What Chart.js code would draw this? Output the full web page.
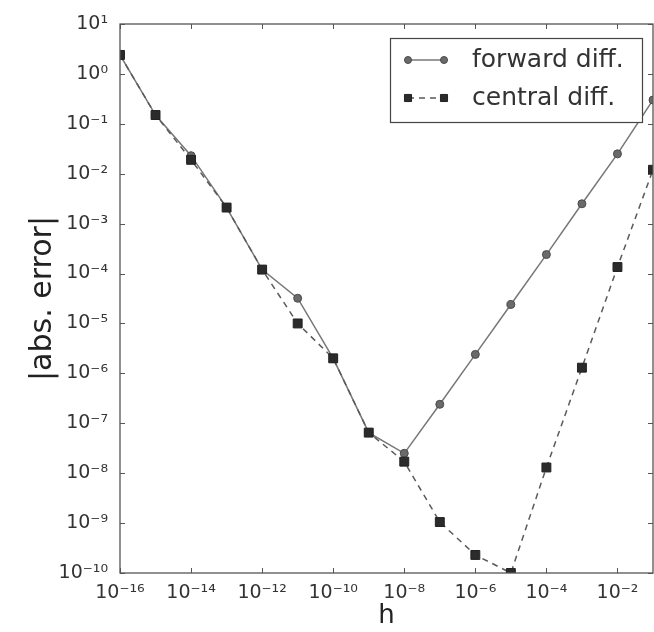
<!DOCTYPE html>
<html><head><meta charset="utf-8">
<script src="https://cdn.jsdelivr.net/npm/chart.js@4.4.1/dist/chart.umd.min.js"></script>
<style>html,body{margin:0;padding:0;background:#fff}#wrap{width:654px;height:632px;position:relative}</style>
</head><body><div id="wrap"><canvas id="c" width="654" height="632"></canvas></div>
<script>
const hValues = [1e-16, 1e-15, 1e-14, 1e-13, 1e-12, 1e-11, 1e-10, 1e-9, 1e-8, 1e-7, 1e-6, 1e-5, 1e-4, 1e-3, 1e-2, 1e-1];
const forwardErr = [2.4, 0.15, 0.023, 0.0021, 1.2e-4, 3.2e-5, 2.0e-6, 6.5e-8, 2.5e-8, 2.4e-7, 2.4e-6, 2.4e-5, 2.4e-4, 2.5e-3, 2.5e-2, 0.30];
const centralErr = [2.4, 0.15, 0.019, 0.0021, 1.2e-4, 1.0e-5, 2.0e-6, 6.5e-8, 1.7e-8, 1.05e-9, 2.3e-10, 1.0e-10, 1.3e-8, 1.3e-6, 1.35e-4, 0.012];
const seriesNames = ['forward diff.', 'central diff.'];
const xTickValues = [1e-16, 1e-14, 1e-12, 1e-10, 1e-8, 1e-6, 1e-4, 1e-2];
const yTickValues = [1e1, 1e0, 1e-1, 1e-2, 1e-3, 1e-4, 1e-5, 1e-6, 1e-7, 1e-8, 1e-9, 1e-10];
const xTitle = 'h';
const yTitle = '|abs. error|';

const FONT = "'DejaVu Sans', sans-serif";
const SUP = {'0':'⁰','1':'¹','2':'²','3':'³','4':'⁴','5':'⁵','6':'⁶','7':'⁷','8':'⁸','9':'⁹','-':'⁻'};
function powLabel(v) {
  const e = Math.round(Math.log10(v));
  return '10' + String(e).split('').map(c => SUP[c]).join('');
}

const framePlugin = {
  id: 'frame',
  afterDraw(chart) {
    const {ctx, chartArea: a, scales} = chart;
    ctx.save();
    ctx.strokeStyle = '#555';
    ctx.lineWidth = 1.3;
    ctx.strokeRect(a.left, a.top, a.right - a.left, a.bottom - a.top);
    ctx.lineWidth = 1;
    const tl = 5;
    ctx.beginPath();
    xTickValues.forEach(v => {
      const x = Math.round(scales.x.getPixelForValue(v)) + 0.5;
      ctx.moveTo(x, a.bottom); ctx.lineTo(x, a.bottom - tl);
      ctx.moveTo(x, a.top); ctx.lineTo(x, a.top + tl);
    });
    yTickValues.forEach(v => {
      const y = Math.round(scales.y.getPixelForValue(v)) + 0.5;
      ctx.moveTo(a.left, y); ctx.lineTo(a.left + tl, y);
      ctx.moveTo(a.right, y); ctx.lineTo(a.right - tl, y);
    });
    ctx.stroke();

    // legend
    const bx = 390, by = 38, bw = 252, bh = 84;
    ctx.fillStyle = '#fff';
    ctx.fillRect(bx, by, bw, bh);
    ctx.strokeStyle = '#444';
    ctx.lineWidth = 1.2;
    ctx.strokeRect(bx + 0.5, by + 0.5, bw, bh);
    const rows = [60, 98];
    chart.data.datasets.forEach((ds, i) => {
      const y = rows[i];
      const x1 = 408, x2 = 444;
      ctx.save();
      ctx.strokeStyle = ds.borderColor;
      ctx.lineWidth = ds.borderWidth;
      ctx.setLineDash(ds.borderDash || []);
      ctx.beginPath(); ctx.moveTo(x1, y); ctx.lineTo(x2, y); ctx.stroke();
      ctx.setLineDash([]);
      ctx.fillStyle = ds.pointBackgroundColor;
      ctx.strokeStyle = ds.pointBorderColor;
      ctx.lineWidth = 1;
      const opts = {pointStyle: ds.pointStyle, rotation: 0, radius: ds.pointStyle === 'rect' ? 5 : 3.5, borderWidth: 1};
      Chart.helpers.drawPoint(ctx, opts, x1, y);
      Chart.helpers.drawPoint(ctx, opts, x2, y);
      ctx.restore();
      ctx.fillStyle = '#333';
      ctx.font = '25px ' + FONT;
      ctx.textBaseline = 'middle';
      ctx.textAlign = 'left';
      ctx.fillText(ds.label, 472, y);
    });
    ctx.restore();
  }
};

new Chart(document.getElementById('c'), {
  type: 'line',
  data: {
    labels: hValues,
    datasets: [
      {
        label: seriesNames[0],
        data: hValues.map((h, i) => ({x: h, y: forwardErr[i]})),
        borderColor: '#777',
        borderWidth: 1.5,
        pointStyle: 'circle',
        pointRadius: 4,
        pointBackgroundColor: '#6a6a6a',
        pointBorderColor: '#4a4a4a',
        pointBorderWidth: 1,
        fill: false,
        tension: 0,
        clip: 0,
        order: 2
      },
      {
        label: seriesNames[1],
        data: hValues.map((h, i) => ({x: h, y: centralErr[i]})),
        borderColor: '#5a5a5a',
        borderWidth: 1.5,
        borderDash: [6, 5],
        pointStyle: 'rect',
        pointRadius: 6.3,
        pointBackgroundColor: '#2b2b2b',
        pointBorderColor: '#222',
        pointBorderWidth: 1,
        fill: false,
        tension: 0,
        clip: 0,
        order: 1
      }
    ]
  },
  options: {
    responsive: false,
    animation: false,
    devicePixelRatio: 1,
    layout: {autoPadding: false, padding: {top: 24, right: 1, left: 0, bottom: 0}},
    plugins: {legend: {display: false}, tooltip: {enabled: false}},
    scales: {
      x: {
        type: 'logarithmic',
        min: 1e-16, max: 1e-1,
        grid: {display: false},
        border: {display: false},
        ticks: {
          font: {family: FONT, size: 19}, color: '#333', padding: 1,
          maxRotation: 0, autoSkip: false,
          callback: v => powLabel(v)
        },
        afterBuildTicks: s => { s.ticks = xTickValues.map(v => ({value: v})); },
        afterFit: s => { s.height = 59; s.paddingLeft = 0; s.paddingRight = 0; },
        title: {display: true, text: xTitle, color: '#222', font: {family: FONT, size: 26}, padding: {top: 0, bottom: 0}}
      },
      y: {
        type: 'logarithmic',
        min: 1e-10, max: 1e1,
        grid: {display: false},
        border: {display: false},
        ticks: {
          font: {family: FONT, size: 19}, color: '#333', padding: 4,
          autoSkip: false,
          callback: v => powLabel(v)
        },
        afterBuildTicks: s => { s.ticks = yTickValues.map(v => ({value: v})); },
        afterFit: s => { s.width = 120; s.paddingTop = 0; s.paddingBottom = 0; },
        title: {display: true, text: yTitle, color: '#222', font: {family: FONT, size: 30}, padding: {top: 25, bottom: 0}}
      }
    }
  },
  plugins: [framePlugin]
});
</script></body></html>
